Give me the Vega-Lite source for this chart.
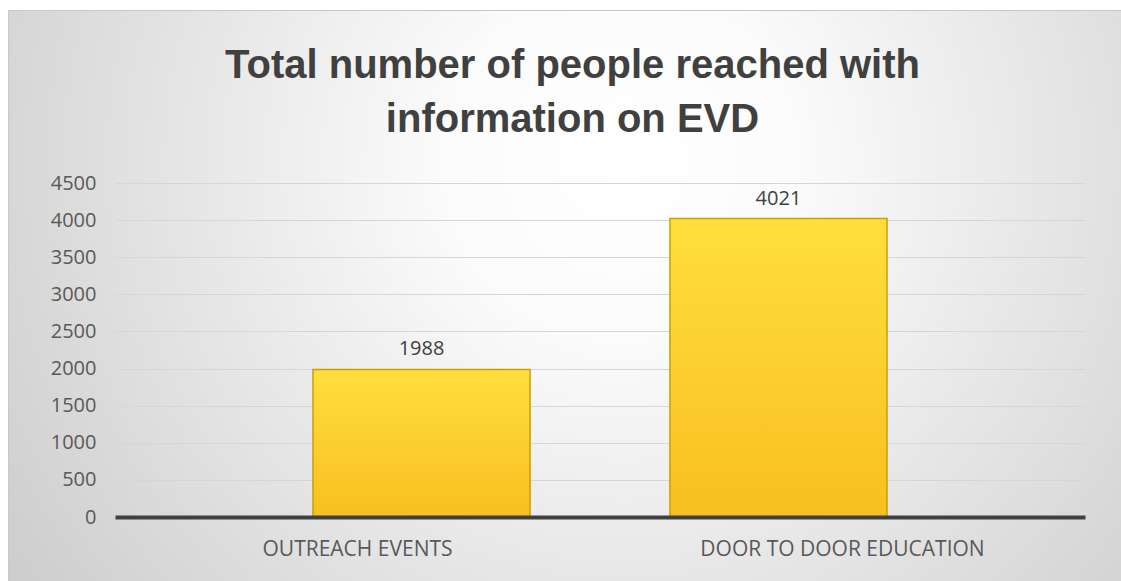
{
  "$schema": "https://vega.github.io/schema/vega-lite/v6.json",
  "width": 1113,
  "height": 571,
  "autosize": {"type": "none"},
  "padding": {"left": 8, "top": 10, "right": 0, "bottom": 0},
  "background": "#ffffff",
  "config": {
    "view": {
      "fill": {
        "gradient": "radial",
        "x1": 0.55, "y1": 0.38, "x2": 0.55, "y2": 0.38,
        "r1": 0, "r2": 0.78,
        "stops": [
          {"offset": 0, "color": "#ffffff"},
          {"offset": 0.2, "color": "#fbfbfb"},
          {"offset": 1, "color": "#c2c2c2"}
        ]
      },
      "stroke": "#c8c8c8"
    },
    "font": "Open Sans"
  },
  "title": {
    "text": ["Total number of people reached with", "information on EVD"],
    "font": "Liberation Sans",
    "fontSize": 40,
    "fontWeight": "bold",
    "color": "#404040",
    "anchor": "middle",
    "frame": "group",
    "offset": -130,
    "lineHeight": 54,
    "dx": 8
  },
  "data": {
    "values": [
      {"category": "OUTREACH EVENTS", "people": 1988},
      {"category": "DOOR TO DOOR EDUCATION", "people": 4021}
    ]
  },
  "layer": [
    {
      "mark": {"type": "tick", "opacity": 0},
      "encoding": {
        "x": {
          "field": "category",
          "type": "nominal",
          "sort": null,
          "scale": {"range": [107, 1077], "paddingInner": 0, "paddingOuter": 0},
          "axis": {
            "title": null,
            "orient": "bottom",
            "offset": -64,
            "labelAngle": 0,
            "labelLimit": 0,
            "domain": true,
            "domainColor": "#404040",
            "domainWidth": 4,
            "ticks": false,
            "tickSize": 0,
            "labelPadding": 21,
            "labelFont": "Open Sans",
            "labelFontSize": 21,
            "labelColor": "#595959",
            "zindex": 1
          }
        },
        "y": {
          "field": "people",
          "type": "quantitative",
          "scale": {"domain": [-862, 6831], "nice": false, "zero": false},
          "axis": {
            "title": null,
            "values": [0, 500, 1000, 1500, 2000, 2500, 3000, 3500, 4000, 4500],
            "format": "d",
            "offset": -88,
            "domain": false,
            "ticks": false,
            "tickSize": 0,
            "labelPadding": 0,
            "grid": true,
            "gridColor": "#d6d6d6",
            "gridWidth": 1,
            "labelFont": "Open Sans",
            "labelFontSize": 20,
            "labelColor": "#595959"
          }
        }
      }
    },
    {
      "encoding": {
        "x": {
          "field": "category",
          "type": "nominal",
          "sort": null,
          "scale": {"range": [305, 879], "paddingInner": 0.392, "paddingOuter": 0},
          "axis": null
        },
        "y": {
          "field": "people",
          "type": "quantitative",
          "scale": {"domain": [-862, 6831], "nice": false, "zero": false}
        }
      },
      "layer": [
        {
          "mark": {
            "type": "bar",
            "fill": {
              "gradient": "linear",
              "x1": 0, "y1": 0, "x2": 0, "y2": 1,
              "stops": [
                {"offset": 0, "color": "#ffdf3c"},
                {"offset": 1, "color": "#f8bf20"}
              ]
            },
            "stroke": "#c9a000",
            "strokeWidth": 1.5
          }
        },
        {
          "mark": {
            "type": "text",
            "baseline": "bottom",
            "dy": -10,
            "font": "Open Sans",
            "fontSize": 20,
            "color": "#404040"
          },
          "encoding": {"text": {"field": "people", "type": "quantitative", "format": "d"}}
        }
      ]
    }
  ],
  "resolve": {"scale": {"x": "independent"}}
}
